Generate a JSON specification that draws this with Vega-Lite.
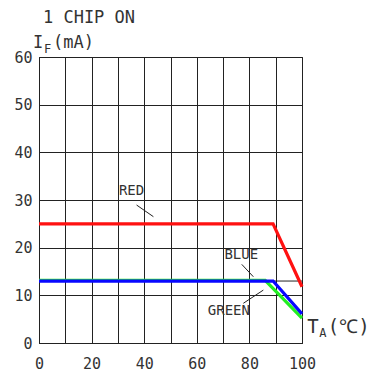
{
  "$schema": "https://vega.github.io/schema/vega-lite/v6.json",
  "width": 263,
  "height": 286,
  "autosize": {"type": "none"},
  "padding": {"left": 39, "top": 57, "right": 72, "bottom": 32},
  "background": "white",
  "config": {
    "view": {"stroke": "#222", "strokeWidth": 1},
    "axis": {
      "domainColor": "#222",
      "gridColor": "#222",
      "gridOpacity": 1,
      "gridWidth": 1,
      "tickSize": 0,
      "labelFont": "DejaVu Sans Mono",
      "labelFontSize": 15,
      "labelColor": "#333",
      "title": null
    }
  },
  "datasets": {
    "curves": [
      {"series": "GREEN", "x": 0, "y": 13.15},
      {"series": "GREEN", "x": 86, "y": 13.15},
      {"series": "GREEN", "x": 100, "y": 5.2},
      {"series": "BLUE", "x": 0, "y": 13},
      {"series": "BLUE", "x": 89, "y": 13},
      {"series": "BLUE", "x": 100, "y": 6.1},
      {"series": "RED", "x": 0, "y": 25},
      {"series": "RED", "x": 89, "y": 25},
      {"series": "RED", "x": 100, "y": 11.8}
    ],
    "leaders": [
      {"label": "RED", "x": 37.1, "y": 28.95, "x2": 43.5, "y2": 26.5},
      {"label": "BLUE", "x": 77.1, "y": 16.5, "x2": 81.5, "y2": 13.9},
      {"label": "GREEN", "x": 77.7, "y": 8.33, "x2": 85.3, "y2": 11.1},
      {"label": "ref", "x": 89, "y": 13, "x2": 100, "y2": 13}
    ],
    "labels": [
      {"label": "RED", "x": 35.2, "y": 31.9},
      {"label": "BLUE", "x": 76.9, "y": 18.46},
      {"label": "GREEN", "x": 72.2, "y": 6.7}
    ],
    "bigText": [
      {"t": "1 CHIP ON", "x": 1.5, "y": 67.1},
      {"t": "I", "x": -2.3, "y": 61.9},
      {"t": "(mA)", "x": 5.3, "y": 61.9}
    ],
    "axisText": [
      {"t": "T", "x": 102.0, "y": 2.1},
      {"t": "(℃)", "x": 109.8, "y": 2.1}
    ],
    "subText": [
      {"t": "F", "x": 1.9, "y": 60.8},
      {"t": "A", "x": 106.6, "y": 1.26}
    ]
  },
  "encoding": {
    "x": {"field": "x", "type": "quantitative", "scale": {"domain": [0, 100], "nice": false},
          "axis": {"values": [0,10,20,30,40,50,60,70,80,90,100], "labelExpr": "datum.value % 20 == 0 ? datum.label : ''", "labelPadding": 13, "labelBaseline": "top", "labelFlush": false, "labelOverlap": false}},
    "y": {"field": "y", "type": "quantitative", "scale": {"domain": [0, 60], "nice": false},
          "axis": {"values": [0,10,20,30,40,50,60], "labelPadding": 7, "labelFlush": false, "labelOverlap": false}}
  },
  "layer": [
    {
      "data": {"name": "leaders"},
      "mark": {"type": "rule", "color": "#222", "strokeWidth": 1},
      "encoding": {
        "x2": {"field": "x2"},
        "y2": {"field": "y2"}
      }
    },
    {
      "data": {"name": "curves"},
      "mark": {"type": "line", "strokeWidth": 3.2, "clip": false},
      "encoding": {
        "color": {"field": "series", "type": "nominal",
                  "scale": {"domain": ["GREEN", "BLUE", "RED"], "range": ["#22ee22", "#0808ff", "#ff1111"]},
                  "legend": null},
        "detail": {"field": "series"}
      }
    },
    {
      "data": {"name": "labels"},
      "mark": {"type": "text", "font": "DejaVu Sans Mono", "fontSize": 14, "color": "#333", "align": "center", "baseline": "middle"},
      "encoding": {
        "text": {"field": "label"}
      }
    },
    {
      "data": {"name": "bigText"},
      "mark": {"type": "text", "font": "DejaVu Sans Mono", "fontSize": 17, "color": "#333", "align": "left", "baseline": "alphabetic", "clip": false},
      "encoding": {
        "text": {"field": "t"}
      }
    },
    {
      "data": {"name": "axisText"},
      "mark": {"type": "text", "font": "DejaVu Sans Mono", "fontSize": 19, "color": "#333", "align": "left", "baseline": "alphabetic", "clip": false},
      "encoding": {
        "text": {"field": "t"}
      }
    },
    {
      "data": {"name": "subText"},
      "mark": {"type": "text", "font": "DejaVu Sans Mono", "fontSize": 12, "color": "#333", "align": "left", "baseline": "alphabetic", "clip": false},
      "encoding": {
        "text": {"field": "t"}
      }
    }
  ]
}
